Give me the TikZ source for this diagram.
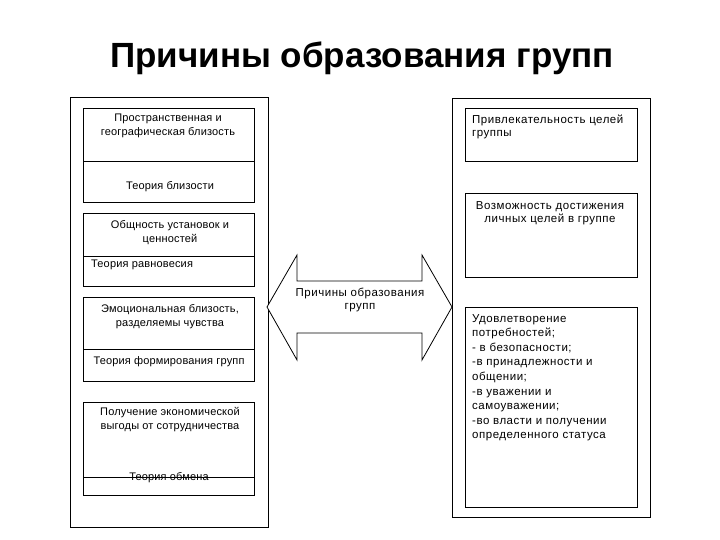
\documentclass[tikz,border=0pt]{standalone}
\usepackage{fontspec}
\setmainfont{Liberation Sans}
\newfontfamily\lwide[LetterSpace=1.5]{Liberation Sans}
\newfontfamily\rwide[LetterSpace=4.5]{Liberation Sans}
\begin{document}
\begin{tikzpicture}[x=1pt,y=-1pt,
  box/.style={draw=black,line width=0.8pt},
  txt/.style={font=\lwide\fontsize{11}{14}\selectfont,inner sep=0pt,align=center},
  rtxt/.style={font=\rwide\fontsize{11.5}{13}\selectfont,inner sep=0pt,align=center},
  ltxt/.style={font=\rwide\fontsize{11.5}{14.6}\selectfont,inner sep=0pt,align=left,anchor=north west}]
\useasboundingbox (0,0) rectangle (720,540);
% title
\node[font=\fontsize{35}{38}\bfseries\selectfont,inner sep=0pt] (title) at (362,58) {Причины образования групп};
% left outer
\draw[box] (70,97) rectangle (268,527);
\draw[box] (83,108) rectangle (254,202);
\draw[box] (83,161) -- (254,161);
\draw[box] (83,213) rectangle (254,286);
\draw[box] (83,256) -- (254,256);
\draw[box] (83,297) rectangle (254,381);
\draw[box] (83,349) -- (254,349);
\draw[box] (83,402) rectangle (254,495);
\draw[box] (83,477) -- (254,477);
\node[txt] (l1) at (168,126) {Пространственная и\\географическая близость};
\node[txt] (l1t) at (170,187) {Теория близости};
\node[txt] (l2) at (170,233) {Общность установок и\\ценностей};
\node[txt,anchor=west] (l2t) at (91,265) {Теория равновесия};
\node[txt] (l3) at (170,317) {Эмоциональная близость,\\разделяемы чувства};
\node[txt] (l3t) at (169,362) {Теория формирования групп};
\node[txt] (l4) at (170,420) {Получение экономической\\выгоды от сотрудничества};
\node[txt] (l4t) at (169,478) {Теория обмена};
% right outer
\draw[box] (452,98) rectangle (650,517);
\draw[box] (465,108) rectangle (637,161);
\draw[box] (465,193) rectangle (637,277);
\draw[box] (465,307) rectangle (637,507);
\node[rtxt,align=left,anchor=north west] (r1) at (472,115) {Привлекательность целей\\группы};
\node[rtxt] (r2) at (550,213) {Возможность достижения\\личных целей в группе};
\node[ltxt] (r3) at (472,314) {Удовлетворение\\потребностей;\\- в безопасности;\\-в принадлежности и\\общении;\\-в уважении и\\самоуважении;\\-во власти и получении\\определенного статуса};
% double arrow
\draw[box,fill=white] (267,307) -- (297,255) -- (297,281) -- (422,281) -- (422,255) -- (452,307)
  -- (422,360) -- (422,333) -- (297,333) -- (297,360) -- cycle;
\node[rtxt] (a) at (360,300) {Причины образования\\групп};
\end{tikzpicture}
\end{document}
